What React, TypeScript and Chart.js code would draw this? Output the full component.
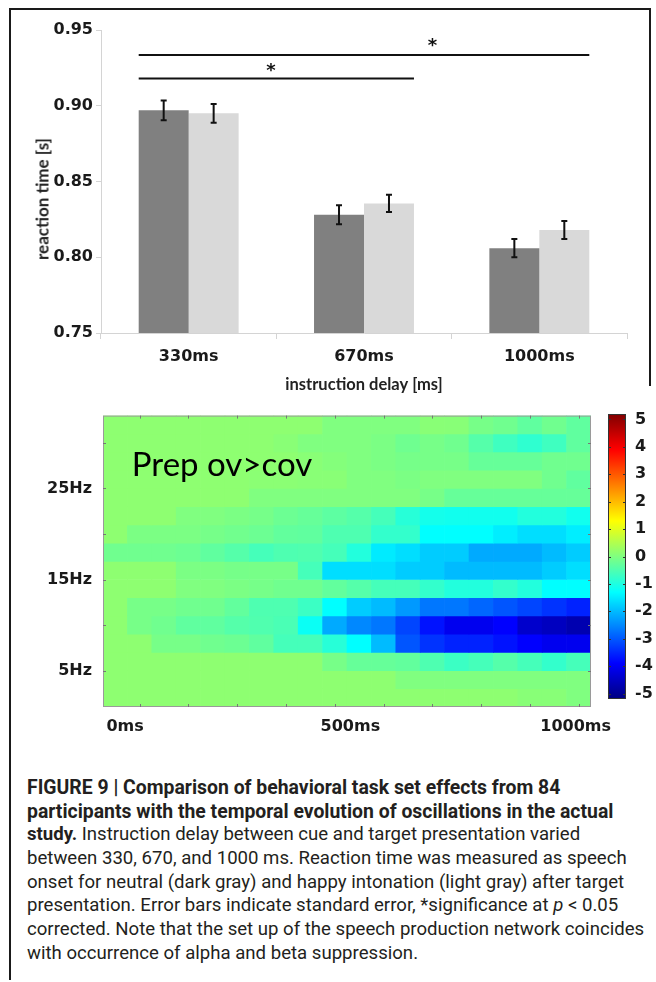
import React, { useEffect, useRef } from 'react';
import { Chart, registerables } from 'chart.js';

Chart.register(...registerables);

// ---------------- Bar chart data ----------------
const delayLabels = ['330ms', '670ms', '1000ms'];
const neutralRT = [0.897, 0.828, 0.806];
const neutralSE = [0.0065, 0.0063, 0.006];
const happyRT = [0.895, 0.8355, 0.818];
const happySE = [0.0062, 0.0057, 0.006];
const rtTickValues = [0.75, 0.8, 0.85, 0.9, 0.95];
const rtMin = 0.75;
const rtMax = 0.95;
// significance brackets (category indices, reaction-time heights)
const sigFromIdx = [0, 0];
const sigToIdx = [2, 1];
const sigLineRT = [0.9335, 0.918];
const sigStarIdx = [1.39, 0.47];
const sigStarRT = [0.942, 0.925];

// ---------------- Heatmap data ----------------
const timeBins = ['c1', 'c2', 'c3', 'c4', 'c5', 'c6', 'c7', 'c8', 'c9', 'c10', 'c11', 'c12', 'c13', 'c14', 'c15', 'c16', 'c17', 'c18', 'c19', 'c20'];
const freqBinCenters = [32, 30, 28, 26, 24, 22, 20, 18, 16, 14, 12, 10, 8, 6, 4, 2];
const freqBinHalf = 1;
const freqMin = 1;
const freqMax = 33;
const freqTickValues = [5, 15, 25];
const freqTickLabels = ['5Hz', '15Hz', '25Hz'];
const freqMarkValues = [5, 10, 15, 20, 25, 30];
const timeMarkCols = [1, 3, 5, 7, 9, 11, 13, 15, 17, 19];
const timeTickValues = [0, 500, 1000];
const timeTickLabels = ['0ms', '500ms', '1000ms'];
const timeAxisMin = -49;
const timeAxisMax = 1034;
const annotText = 'Prep ov>cov';
const annotTime = 15;
const annotFreq = 26.4;

// t-values, rows from top (32 Hz) to bottom (2 Hz), 20 time bins each
const tMap: number[][] = [
  [0.15, 0.15, 0.15, 0.15, 0.15, 0.15, 0.15, 0.15, 0.15, 0.0, 0.0, 0.0, 0.0, 0.1, 0.09, -0.09, -0.16, -0.32, -0.16, -0.32],
  [0.15, 0.15, 0.15, 0.15, 0.15, 0.15, 0.15, 0.1, 0.0, 0.0, 0.0, -0.05, -0.17, -0.09, -0.16, -0.43, -0.66, -0.82, -0.66, -0.32],
  [0.15, 0.15, 0.15, 0.15, 0.15, 0.15, 0.15, 0.15, 0.1, 0.05, 0.0, -0.05, -0.1, -0.09, -0.09, -0.26, -0.26, -0.26, -0.16, -0.16],
  [0.15, 0.15, 0.15, 0.15, 0.15, 0.15, 0.12, 0.12, 0.1, 0.1, 0.0, 0.0, -0.05, 0.0, 0.0, 0.0, 0.0, 0.0, -0.16, -0.32],
  [0.15, 0.15, 0.15, 0.15, 0.15, 0.15, 0.0, 0.0, 0.0, 0.0, 0.0, 0.0, 0.0, -0.09, -0.26, -0.26, -0.26, -0.26, -0.26, -0.26],
  [0.15, 0.15, 0.15, 0.0, 0.0, -0.05, -0.1, -0.2, -0.26, -0.35, -0.43, -0.6, -0.9, -1.1, -1.13, -1.13, -1.13, -0.95, -0.95, -1.13],
  [0.15, -0.05, -0.05, -0.05, -0.1, -0.15, -0.2, -0.3, -0.32, -0.5, -0.5, -0.78, -0.78, -1.3, -1.3, -1.3, -1.47, -1.64, -1.64, -1.47],
  [-0.16, -0.16, -0.16, -0.2, -0.32, -0.43, -0.6, -0.5, -0.48, -0.6, -0.95, -1.5, -1.64, -1.82, -1.82, -2.17, -2.17, -2.17, -1.99, -1.82],
  [0.15, 0.15, 0.15, -0.05, -0.05, -0.1, -0.09, -0.09, -0.6, -1.64, -1.64, -1.64, -1.82, -1.82, -1.99, -1.99, -1.99, -1.99, -1.82, -1.64],
  [0.15, 0.15, 0.15, 0.0, 0.0, -0.05, -0.1, -0.16, -0.16, -0.3, -0.43, -0.6, -0.6, -0.78, -0.95, -0.95, -0.78, -0.95, -1.3, -1.3],
  [0.15, -0.09, -0.09, -0.16, -0.16, -0.3, -0.5, -0.5, -0.7, -1.3, -1.82, -1.99, -2.34, -2.69, -2.69, -2.86, -3.03, -3.2, -3.38, -3.55],
  [0.15, -0.09, -0.16, -0.32, -0.32, -0.43, -0.48, -0.55, -1.2, -2.17, -2.51, -2.69, -3.2, -3.72, -4.06, -4.06, -3.9, -4.42, -4.54, -4.71],
  [0.15, 0.15, -0.09, -0.09, -0.16, -0.2, -0.32, -0.6, -0.6, -0.9, -1.3, -1.99, -3.03, -3.38, -3.55, -3.55, -3.72, -3.9, -4.06, -4.06],
  [0.15, 0.15, 0.15, 0.15, 0.15, 0.15, 0.15, 0.15, 0.15, -0.09, -0.26, -0.26, -0.3, -0.5, -0.7, -0.6, -0.43, -0.6, -0.78, -0.6],
  [0.15, 0.15, 0.15, 0.15, 0.15, 0.15, 0.15, 0.15, 0.15, 0.15, 0.15, 0.15, 0.0, 0.0, 0.0, 0.0, 0.0, 0.0, 0.0, 0.0],
  [0.15, 0.15, 0.15, 0.15, 0.15, 0.15, 0.15, 0.15, 0.15, 0.15, 0.15, 0.15, 0.15, 0.15, 0.15, 0.15, 0.15, 0.09, 0.09, 0.0],
];

// colour bar
const cbarMin = -5.2;
const cbarMax = 5.2;
const cbarTickValues = [-5, -4, -3, -2, -1, 0, 1, 2, 3, 4, 5];

const tickFont = { family: '"DejaVu Sans", sans-serif', weight: 'bold' as const, size: 16 };
const inkColor = '#1a1a1a';

function clamp01(x: number) {
  return Math.min(1, Math.max(0, x));
}
function jetAt(t: number): string {
  const c = (x: number) => Math.round(255 * clamp01(x));
  return `rgb(${c(1.5 - Math.abs(4 * t - 3))},${c(1.5 - Math.abs(4 * t - 2))},${c(1.5 - Math.abs(4 * t - 1))})`;
}
function jetValue(v: number): string {
  return jetAt(clamp01((v - cbarMin) / (cbarMax - cbarMin)));
}

function RTChart() {
  const ref = useRef<HTMLCanvasElement>(null);
  useEffect(() => {
    if (!ref.current) return;
    const marks = {
      id: 'rtMarks',
      afterDatasetsDraw(chart: any) {
        const { ctx } = chart;
        const xs = chart.scales.x;
        const ys = chart.scales.y;
        const means = [neutralRT, happyRT];
        const ses = [neutralSE, happySE];
        ctx.save();
        ctx.strokeStyle = '#111';
        ctx.lineWidth = 2;
        means.forEach((m, di) => {
          const meta = chart.getDatasetMeta(di);
          meta.data.forEach((bar: any, i: number) => {
            const px = bar.x;
            const yt = ys.getPixelForValue(m[i] + ses[di][i]);
            const yb = ys.getPixelForValue(m[i] - ses[di][i]);
            ctx.beginPath();
            ctx.moveTo(px, yt);
            ctx.lineTo(px, yb);
            ctx.moveTo(px - 3, yt);
            ctx.lineTo(px + 3, yt);
            ctx.moveTo(px - 3, yb);
            ctx.lineTo(px + 3, yb);
            ctx.stroke();
          });
        });
        const m0 = chart.getDatasetMeta(0);
        const m1 = chart.getDatasetMeta(1);
        ctx.font = 'bold 18px "DejaVu Sans"';
        ctx.textAlign = 'center';
        ctx.textBaseline = 'alphabetic';
        ctx.fillStyle = '#111';
        const mt = ctx.measureText('*');
        const half = (mt.actualBoundingBoxAscent - mt.actualBoundingBoxDescent) / 2;
        sigFromIdx.forEach((f, k) => {
          const a = m0.data[f];
          const b = m1.data[sigToIdx[k]];
          const left = a.x - a.width / 2;
          const right = b.x + b.width / 2;
          const ly = ys.getPixelForValue(sigLineRT[k]);
          ctx.beginPath();
          ctx.moveTo(left, ly);
          ctx.lineTo(right, ly);
          ctx.stroke();
          const sx = xs.getPixelForValue(sigStarIdx[k]);
          const sy = ys.getPixelForValue(sigStarRT[k]);
          ctx.fillText('*', sx, sy + half);
        });
        ctx.restore();
      },
    };
    const chart = new Chart(ref.current, {
      type: 'bar',
      data: {
        labels: delayLabels,
        datasets: [
          { label: 'neutral', data: neutralRT, backgroundColor: '#808080', borderWidth: 0, barPercentage: 1, categoryPercentage: 0.57 },
          { label: 'happy', data: happyRT, backgroundColor: '#d9d9d9', borderWidth: 0, barPercentage: 1, categoryPercentage: 0.57 },
        ],
      },
      options: {
        animation: false,
        responsive: false,
        layout: { padding: { top: 30, right: 29, left: 0, bottom: 0 } },
        plugins: { legend: { display: false }, tooltip: { enabled: false } },
        scales: {
          x: {
            grid: { drawOnChartArea: false, tickLength: 6, color: '#d4d4d4', offset: true },
            border: { color: '#d4d4d4' },
            ticks: { font: tickFont, color: inkColor, padding: 8 },
            title: {
              display: true,
              text: 'instruction delay [ms]',
              font: { family: 'Lato, sans-serif', weight: 'bold', size: 16.5 },
              color: '#222',
              padding: { top: 0, bottom: 5 },
            },
            afterFit: (s: any) => {
              s.height = 67;
            },
          },
          y: {
            min: rtMin,
            max: rtMax,
            afterBuildTicks: (s: any) => {
              s.ticks = rtTickValues.map((v) => ({ value: v }));
            },
            grid: { drawOnChartArea: false, tickLength: 5, color: '#d4d4d4' },
            border: { color: '#d4d4d4' },
            ticks: { font: tickFont, color: inkColor, padding: 3, callback: (v: any) => Number(v).toFixed(2) },
            afterFit: (s: any) => {
              s.width = 101;
            },
          },
        },
      },
      plugins: [marks],
    } as any);
    return () => chart.destroy();
  }, []);
  return <canvas ref={ref} width={656} height={400} style={{ position: 'absolute', left: 0, top: 0 }} />;
}

function HeatChart() {
  const ref = useRef<HTMLCanvasElement>(null);
  useEffect(() => {
    if (!ref.current) return;
    const deco = {
      id: 'heatDeco',
      afterDatasetsDraw(chart: any) {
        const { ctx, chartArea } = chart;
        const xs = chart.scales.x;
        const xt = chart.scales.xTime;
        const ys = chart.scales.y;
        ctx.save();
        ctx.strokeStyle = '#9a9a9a';
        ctx.lineWidth = 1;
        ctx.strokeRect(chartArea.left + 0.5, chartArea.top + 0.5, chartArea.right - chartArea.left - 1, chartArea.bottom - chartArea.top - 1);
        ctx.strokeStyle = '#777';
        ctx.beginPath();
        timeMarkCols.forEach((c) => {
          const px = Math.round(xs.getPixelForValue(c)) + 0.5;
          ctx.moveTo(px, chartArea.top);
          ctx.lineTo(px, chartArea.top + 3);
          ctx.moveTo(px, chartArea.bottom);
          ctx.lineTo(px, chartArea.bottom - 3);
        });
        freqMarkValues.forEach((f) => {
          const py = Math.round(ys.getPixelForValue(f)) + 0.5;
          ctx.moveTo(chartArea.left, py);
          ctx.lineTo(chartArea.left + 3, py);
          ctx.moveTo(chartArea.right, py);
          ctx.lineTo(chartArea.right - 3, py);
        });
        ctx.stroke();
        ctx.fillStyle = '#000';
        ctx.font = '33px Lato, sans-serif';
        ctx.textAlign = 'left';
        ctx.textBaseline = 'alphabetic';
        ctx.fillText(annotText, xt.getPixelForValue(annotTime), ys.getPixelForValue(annotFreq));
        ctx.restore();
      },
    };
    const chart = new Chart(ref.current, {
      type: 'bar',
      data: {
        labels: timeBins,
        datasets: freqBinCenters.map((fc, r) => ({
          label: `${fc}Hz`,
          data: timeBins.map(() => [fc - freqBinHalf, fc + freqBinHalf]),
          backgroundColor: tMap[r].map(jetValue),
          borderWidth: 0,
          barPercentage: 1,
          categoryPercentage: 1,
          xAxisID: 'x',
          yAxisID: 'y',
        })),
      },
      options: {
        animation: false,
        responsive: false,
        layout: { padding: { top: 13, right: 65, left: 0, bottom: 0 } },
        plugins: { legend: { display: false }, tooltip: { enabled: false } },
        scales: {
          x: { type: 'category', stacked: true, display: false, offset: true },
          xTime: {
            type: 'linear',
            position: 'bottom',
            offset: false,
            min: timeAxisMin,
            max: timeAxisMax,
            afterBuildTicks: (s: any) => {
              s.ticks = timeTickValues.map((v) => ({ value: v }));
            },
            grid: { display: false, drawTicks: false, offset: false },
            border: { display: false },
            ticks: {
              font: tickFont,
              color: inkColor,
              padding: 10.5,
              maxRotation: 0,
              autoSkip: false,
              callback: (v: any) => timeTickLabels[timeTickValues.indexOf(Number(v))],
            },
            afterFit: (s: any) => {
              s.height = 38;
            },
          },
          y: {
            type: 'linear',
            stacked: false,
            min: freqMin,
            max: freqMax,
            afterBuildTicks: (s: any) => {
              s.ticks = freqTickValues.map((v) => ({ value: v }));
            },
            grid: { display: false, drawTicks: false },
            border: { display: false },
            ticks: {
              font: tickFont,
              color: inkColor,
              padding: 11,
              callback: (v: any) => freqTickLabels[freqTickValues.indexOf(Number(v))],
            },
            afterFit: (s: any) => {
              s.width = 103;
            },
          },
        },
      },
      plugins: [deco],
    } as any);
    return () => chart.destroy();
  }, []);
  return <canvas ref={ref} width={656} height={350} style={{ position: 'absolute', left: 0, top: 395 }} />;
}

function ColorBar() {
  const ref = useRef<HTMLCanvasElement>(null);
  useEffect(() => {
    if (!ref.current) return;
    const frame = {
      id: 'cbarFrame',
      afterDatasetsDraw(chart: any) {
        const { ctx, chartArea } = chart;
        const ys = chart.scales.y;
        ctx.save();
        ctx.strokeStyle = '#333';
        ctx.lineWidth = 1;
        ctx.strokeRect(chartArea.left + 0.5, chartArea.top + 0.5, chartArea.right - chartArea.left - 1, chartArea.bottom - chartArea.top - 1);
        ctx.beginPath();
        cbarTickValues.forEach((v) => {
          const py = Math.round(ys.getPixelForValue(v)) + 0.5;
          ctx.moveTo(chartArea.right, py);
          ctx.lineTo(chartArea.right - 3, py);
          ctx.moveTo(chartArea.left, py);
          ctx.lineTo(chartArea.left + 3, py);
        });
        ctx.stroke();
        ctx.restore();
      },
    };
    const gradient = (c: any) => {
      const { chart } = c;
      const { ctx, chartArea } = chart;
      if (!chartArea) return '#0f0';
      const g = ctx.createLinearGradient(0, chartArea.bottom, 0, chartArea.top);
      for (let k = 0; k <= 48; k++) {
        g.addColorStop(k / 48, jetAt(k / 48));
      }
      return g;
    };
    const chart = new Chart(ref.current, {
      type: 'bar',
      data: {
        labels: ['t'],
        datasets: [
          { data: [[cbarMin, cbarMax]], backgroundColor: gradient, borderWidth: 0, barPercentage: 1, categoryPercentage: 1 },
        ],
      },
      options: {
        animation: false,
        responsive: false,
        layout: { padding: { top: 19, right: 0, left: 8, bottom: 26 } },
        plugins: { legend: { display: false }, tooltip: { enabled: false } },
        scales: {
          x: { display: false, offset: true },
          y: {
            position: 'right',
            min: cbarMin,
            max: cbarMax,
            afterBuildTicks: (s: any) => {
              s.ticks = cbarTickValues.map((v) => ({ value: v }));
            },
            grid: { display: false, drawTicks: false },
            border: { display: false },
            ticks: { font: tickFont, color: inkColor, padding: 9, callback: (v: any) => String(v) },
            afterFit: (s: any) => {
              s.width = 30;
            },
          },
        },
      },
      plugins: [frame],
    } as any);
    return () => chart.destroy();
  }, []);
  return <canvas ref={ref} width={56} height={330} style={{ position: 'absolute', left: 600, top: 395 }} />;
}

const lineStyle: React.CSSProperties = { height: 23.7, whiteSpace: 'nowrap' };
const boldLine: React.CSSProperties = { height: 23.7, whiteSpace: 'nowrap', fontWeight: 700, fontSize: 19.4 };

export default function App() {
  return (
    <div style={{ position: 'absolute', left: 0, top: 0, width: 656, height: 982, background: '#fff', overflow: 'hidden' }}>
      <div style={{ position: 'absolute', left: 9, top: 8, width: 642, height: 2, background: '#1a1a1a' }} />
      <div style={{ position: 'absolute', left: 9, top: 8, width: 2, height: 972, background: '#1a1a1a' }} />
      <div style={{ position: 'absolute', left: 649, top: 8, width: 2, height: 378, background: '#1a1a1a' }} />
      <RTChart />
      <div
        style={{
          position: 'absolute',
          left: 42,
          top: 199,
          transform: 'translate(-50%, -50%) rotate(-90deg)',
          fontFamily: 'Lato, sans-serif',
          fontWeight: 700,
          fontSize: 17,
          color: '#222',
          whiteSpace: 'nowrap',
        }}
      >
        reaction time [s]
      </div>
      <HeatChart />
      <ColorBar />
      <div
        style={{
          position: 'absolute',
          left: 27,
          top: 776,
          fontFamily: 'Roboto, sans-serif',
          fontSize: 18.6,
          lineHeight: '23.7px',
          color: '#231f20',
        }}
      >
        <div style={boldLine}>FIGURE 9 | Comparison of behavioral task set effects from 84</div>
        <div style={boldLine}>participants with the temporal evolution of oscillations in the actual</div>
        <div style={lineStyle}>
          <b>study.</b> Instruction delay between cue and target presentation varied
        </div>
        <div style={lineStyle}>between 330, 670, and 1000 ms. Reaction time was measured as speech</div>
        <div style={lineStyle}>onset for neutral (dark gray) and happy intonation (light gray) after target</div>
        <div style={lineStyle}>
          presentation. Error bars indicate standard error, *significance at <i>p</i> &lt; 0.05
        </div>
        <div style={lineStyle}>corrected. Note that the set up of the speech production network coincides</div>
        <div style={lineStyle}>with occurrence of alpha and beta suppression.</div>
      </div>
    </div>
  );
}
